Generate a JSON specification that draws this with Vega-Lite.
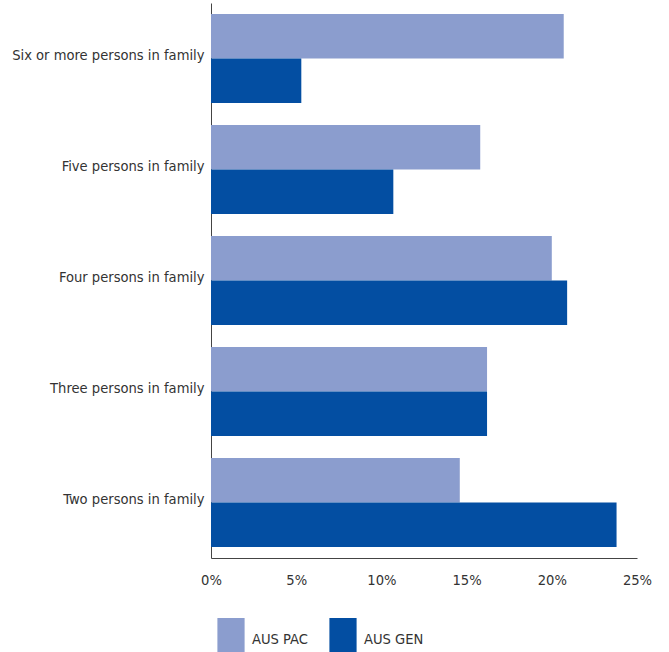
{
  "$schema": "https://vega.github.io/schema/vega-lite/v6.json",
  "autosize": "none",
  "width": 426,
  "height": 555,
  "padding": {"left": 211, "top": 3, "right": 32, "bottom": 94},
  "background": "white",
  "config": {
    "view": {"stroke": null},
    "font": "DejaVu Sans Condensed, Liberation Sans",
    "axis": {"labelFont": "DejaVu Sans Condensed, Liberation Sans", "labelColor": "#333333", "labelFontSize": 14.6, "domainColor": "#444444", "ticks": false, "grid": false, "title": null},
    "legend": {"labelFont": "DejaVu Sans Condensed, Liberation Sans", "labelColor": "#333333", "labelFontSize": 14.6}
  },
  "data": {
    "values": [
      {"category": "Six or more persons in family", "series": "AUS PAC", "value": 20.7},
      {"category": "Six or more persons in family", "series": "AUS GEN", "value": 5.3},
      {"category": "Five persons in family", "series": "AUS PAC", "value": 15.8},
      {"category": "Five persons in family", "series": "AUS GEN", "value": 10.7},
      {"category": "Four persons in family", "series": "AUS PAC", "value": 20.0},
      {"category": "Four persons in family", "series": "AUS GEN", "value": 20.9},
      {"category": "Three persons in family", "series": "AUS PAC", "value": 16.2},
      {"category": "Three persons in family", "series": "AUS GEN", "value": 16.2},
      {"category": "Two persons in family", "series": "AUS PAC", "value": 14.6},
      {"category": "Two persons in family", "series": "AUS GEN", "value": 23.8}
    ]
  },
  "mark": {"type": "bar"},
  "encoding": {
    "y": {
      "field": "category",
      "type": "nominal",
      "sort": ["Six or more persons in family", "Five persons in family", "Four persons in family", "Three persons in family", "Two persons in family"],
      "scale": {"paddingInner": 0.2, "paddingOuter": 0.1},
      "axis": {"labelPadding": 7, "labelLimit": 300, "labelOffset": -3}
    },
    "yOffset": {
      "field": "series",
      "type": "nominal",
      "sort": ["AUS PAC", "AUS GEN"],
      "scale": {"paddingInner": 0, "paddingOuter": 0}
    },
    "x": {
      "field": "value",
      "type": "quantitative",
      "scale": {"domain": [0, 25], "nice": false},
      "axis": {"values": [0, 5, 10, 15, 20, 25], "labelExpr": "datum.value + '%'", "labelPadding": 14, "labelFlush": false}
    },
    "color": {
      "field": "series",
      "type": "nominal",
      "sort": ["AUS PAC", "AUS GEN"],
      "scale": {"domain": ["AUS PAC", "AUS GEN"], "range": ["#8B9DCE", "#034EA2"]},
      "legend": {
        "title": null,
        "orient": "none",
        "direction": "horizontal",
        "legendX": 3,
        "legendY": 615,
        "symbolType": "M-0.8,-1H0.8V1H-0.8Z",
        "symbolSize": 1156,
        "symbolStrokeWidth": 0,
        "symbolOpacity": 1,
        "labelOffset": 4,
        "columnPadding": 18,
        "encode": {
          "symbols": {"update": {"size": {"value": 1156}, "shape": {"value": "M-0.8,-1H0.8V1H-0.8Z"}}},
          "labels": {"update": {"dy": {"value": 5}}}
        }
      }
    }
  }
}
